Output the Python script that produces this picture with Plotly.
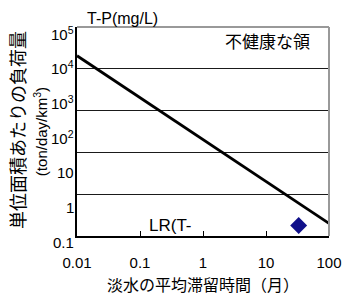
import math
import plotly.graph_objects as go

# Data
line_x = [0.01, 100]
line_y = [15000, 0.23]
point_x = [33]
point_y = [0.2]
x_tickvals = [0.01, 0.1, 1, 10, 100]
x_ticktext = ["0.01", "0.1", "1", "10", "100"]
y_labelvals = [1e5, 1e4, 1e3, 1e2, 10, 1, 0.1]
y_labeltext = ["10<sup>5</sup>", "10<sup>4</sup>", "10<sup>3</sup>", "10<sup>2</sup>", "10", "1", "0.1"]
y_gridvals = [10**0.2, 10**1.4, 10**2.6, 10**3.8]

FONT = "Liberation Sans, Arial, Noto Sans CJK JP, sans-serif"
CJK = "Noto Sans CJK JP, sans-serif"

fig = go.Figure()
fig.add_trace(go.Scatter(x=line_x, y=line_y, mode="lines",
                         line=dict(color="black", width=2.8), showlegend=False))
fig.add_trace(go.Scatter(x=point_x, y=point_y, mode="markers",
                         marker=dict(symbol="diamond", size=13, color="#10108a"),
                         showlegend=False))

annotations = []
for v, t in zip(y_labelvals, y_labeltext):
    annotations.append(dict(x=0, xref="paper", y=math.log10(v), yref="y", text=t, showarrow=False,
                            xanchor="right", yanchor="middle", xshift=-1, yshift=-6,
                            font=dict(size=15, color="black", family=FONT)))
# y titles
annotations.append(dict(x=0, xref="paper", y=0.507, yref="paper", text="単位面積あたりの負荷量",
                        textangle=-90, showarrow=False, xanchor="center", yanchor="middle",
                        xshift=-60, font=dict(size=18, color="black", family=CJK)))
annotations.append(dict(x=0, xref="paper", y=0.497, yref="paper", text="(ton/day/km<sup>3</sup>)",
                        textangle=-90, showarrow=False, xanchor="center", yanchor="middle",
                        xshift=-37, font=dict(size=15, color="black", family=FONT)))
# x title
annotations.append(dict(x=0.5, xref="paper", y=0, yref="paper", text="淡水の平均滞留時間（月）",
                        showarrow=False, xanchor="center", yanchor="middle", yshift=-48,
                        font=dict(size=16, color="black", family=CJK)))
# texts
annotations.append(dict(x=0.03, xref="paper", y=1, yref="paper", text="T-P(mg/L)",
                        showarrow=False, xanchor="left", yanchor="middle", yshift=9,
                        font=dict(size=16, color="black", family=FONT)))
annotations.append(dict(x=0.58, xref="paper", y=1, yref="paper", text="不健康な領",
                        showarrow=False, xanchor="left", yanchor="middle", yshift=-13,
                        font=dict(size=17, color="black", family=CJK)))
annotations.append(dict(x=0.278, xref="paper", y=0, yref="paper", text="LR(T-",
                        showarrow=False, xanchor="left", yanchor="middle", yshift=11,
                        font=dict(size=17, color="black", family=FONT)))

fig.update_layout(
    width=342, height=296,
    margin=dict(l=77, r=13, t=27, b=60, autoexpand=False),
    paper_bgcolor="white", plot_bgcolor="white",
    font=dict(family=FONT, color="black"),
    xaxis=dict(type="log", range=[-2, 2], tickvals=x_tickvals, ticktext=x_ticktext,
               ticks="inside", ticklen=5, tickcolor="black", showgrid=False,
               showline=True, linecolor="black", linewidth=1.5, zeroline=False,
               tickfont=dict(size=15, color="black", family=FONT), ticklabelstandoff=12),
    yaxis=dict(type="log", range=[-1, 5], tickvals=y_gridvals, showticklabels=False,
               ticks="", showgrid=True, gridcolor="#1a1a1a", gridwidth=1,
               showline=True, linecolor="black", linewidth=1.5, zeroline=False),
    annotations=annotations,
    shapes=[
        dict(type="line", xref="paper", yref="paper", x0=0, x1=1, y0=1, y1=1,
             line=dict(color="#999999", width=2)),
        dict(type="line", xref="paper", yref="paper", x0=1, x1=1, y0=0, y1=1,
             line=dict(color="#999999", width=2)),
    ],
)

fig.write_html("out.html", config={"displayModeBar": False},
               post_script="document.body.style.margin='0';document.body.style.padding='0';")
